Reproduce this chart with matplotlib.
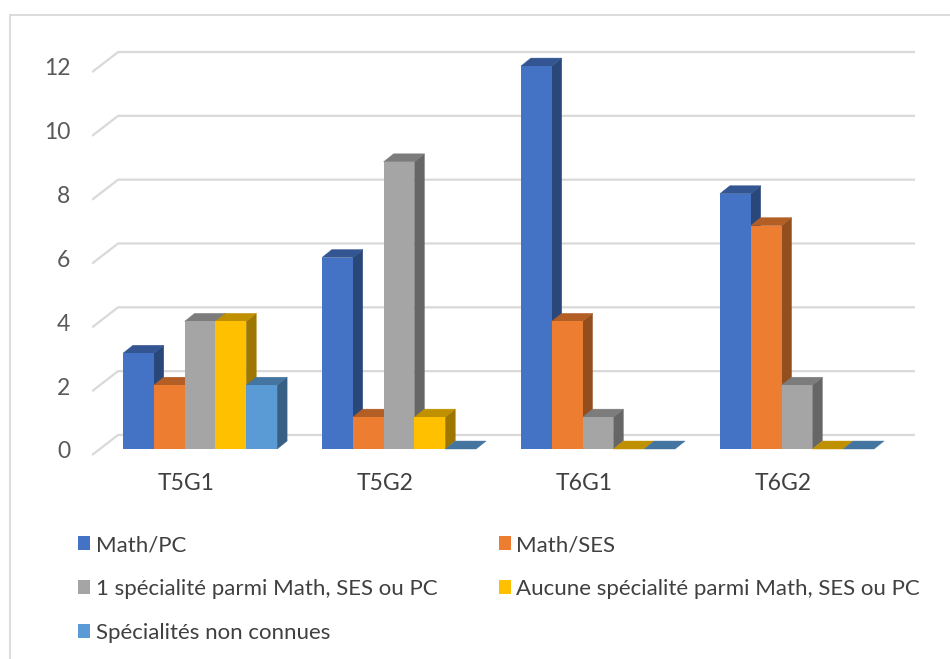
import numpy as np
import matplotlib.pyplot as plt
from matplotlib.patches import Polygon, Patch, Rectangle
from matplotlib.colors import to_rgb

plt.rcParams['font.family'] = ['Lato', 'DejaVu Sans']

# Data
groups = ['T5G1', 'T5G2', 'T6G1', 'T6G2']
series = ['Math/PC', 'Math/SES', '1 spécialité parmi Math, SES ou PC',
          'Aucune spécialité parmi Math, SES ou PC', 'Spécialités non connues']
math_pc = [3, 6, 12, 8]
math_ses = [2, 1, 4, 7]
une_spe = [4, 9, 1, 2]
aucune = [4, 1, 0, 0]
inconnues = [2, 0, 0, 0]
values = [math_pc, math_ses, une_spe, aucune, inconnues]
yticks = [0, 2, 4, 6, 8, 10, 12]

colors = ['#4472C4', '#ED7D31', '#A5A5A5', '#FFC000', '#5B9BD5']


def shade(c, f):
    return tuple(np.array(to_rgb(c)) * f)


fig = plt.figure(figsize=(9.5, 6.59), dpi=100)
W, H = 950, 659
# axes placed in pixel space of the figure
left_px, right_px, top_px, bot_px = 92, 915, 45, 458
ax = fig.add_axes([left_px / W, 1 - bot_px / H, (right_px - left_px) / W, (bot_px - top_px) / H])
ax.set_xlim(-0.543, 3.593)
ax.set_ylim(-0.282, 12.66)
ax.axis('off')

# outer chart frame (only top and left visible)
fig.add_artist(Rectangle((10 / W, -0.1), 1.1, 1 - 15 / H + 0.1, transform=fig.transFigure,
                         fill=False, edgecolor='#d9d9d9', lw=1.3))

# back-wall gridlines with floor slant
gx0, gx1, gx2 = -0.543, -0.412, 3.593
for v in yticks:
    ax.plot([gx0, gx1, gx2], [v - 0.19, v + 0.44, v + 0.44], color='#d9d9d9', lw=1.6,
            zorder=1, solid_capstyle='butt')
    ax.text(gx0 - 0.11, v - 0.09, str(v), ha='right', va='center', fontsize=16.5, color='#595959')

# 3D-looking bars
w = 0.155
dx, dy = 0.05, 0.25
x = np.arange(len(groups))
for j, vals in enumerate(values):
    xs = x - 2.5 * w + j * w
    z = 2 + j * 0.1
    for xl, v in zip(xs, vals):
        side = [(xl + w, 0), (xl + w + dx, dy), (xl + w + dx, v + dy), (xl + w, v)]
        top = [(xl, v), (xl + w, v), (xl + w + dx, v + dy), (xl + dx, v + dy)]
        if v > 0:
            ax.add_patch(Polygon(side, closed=True, fc=shade(colors[j], 0.62),
                                 ec=shade(colors[j], 0.62), lw=0.3, zorder=z))
        ax.add_patch(Polygon(top, closed=True, fc=shade(colors[j], 0.75),
                             ec=shade(colors[j], 0.75), lw=0.3, zorder=z))
    ax.bar(xs, vals, width=w, align='edge', color=colors[j], lw=0, zorder=z + 0.05)

for i, g in enumerate(groups):
    ax.text(x[i] - 0.07, -1.08, g, ha='center', va='center', fontsize=16.5, color='#404040',
            clip_on=False)

# legend, row-wise order
handles = [Patch(facecolor=c, edgecolor='none') for c in colors]
order = [0, 2, 4, 1, 3]
fig.legend([handles[k] for k in order], [series[k] for k in order], ncol=2,
           loc='upper left', bbox_to_anchor=(58 / W, 1 - 515 / H), frameon=False,
           fontsize=16, labelcolor='#404040', handlelength=0.55, handleheight=0.55,
           handletextpad=0.25, columnspacing=2.75, labelspacing=1.08)

fig.savefig('out.png', dpi=100)
